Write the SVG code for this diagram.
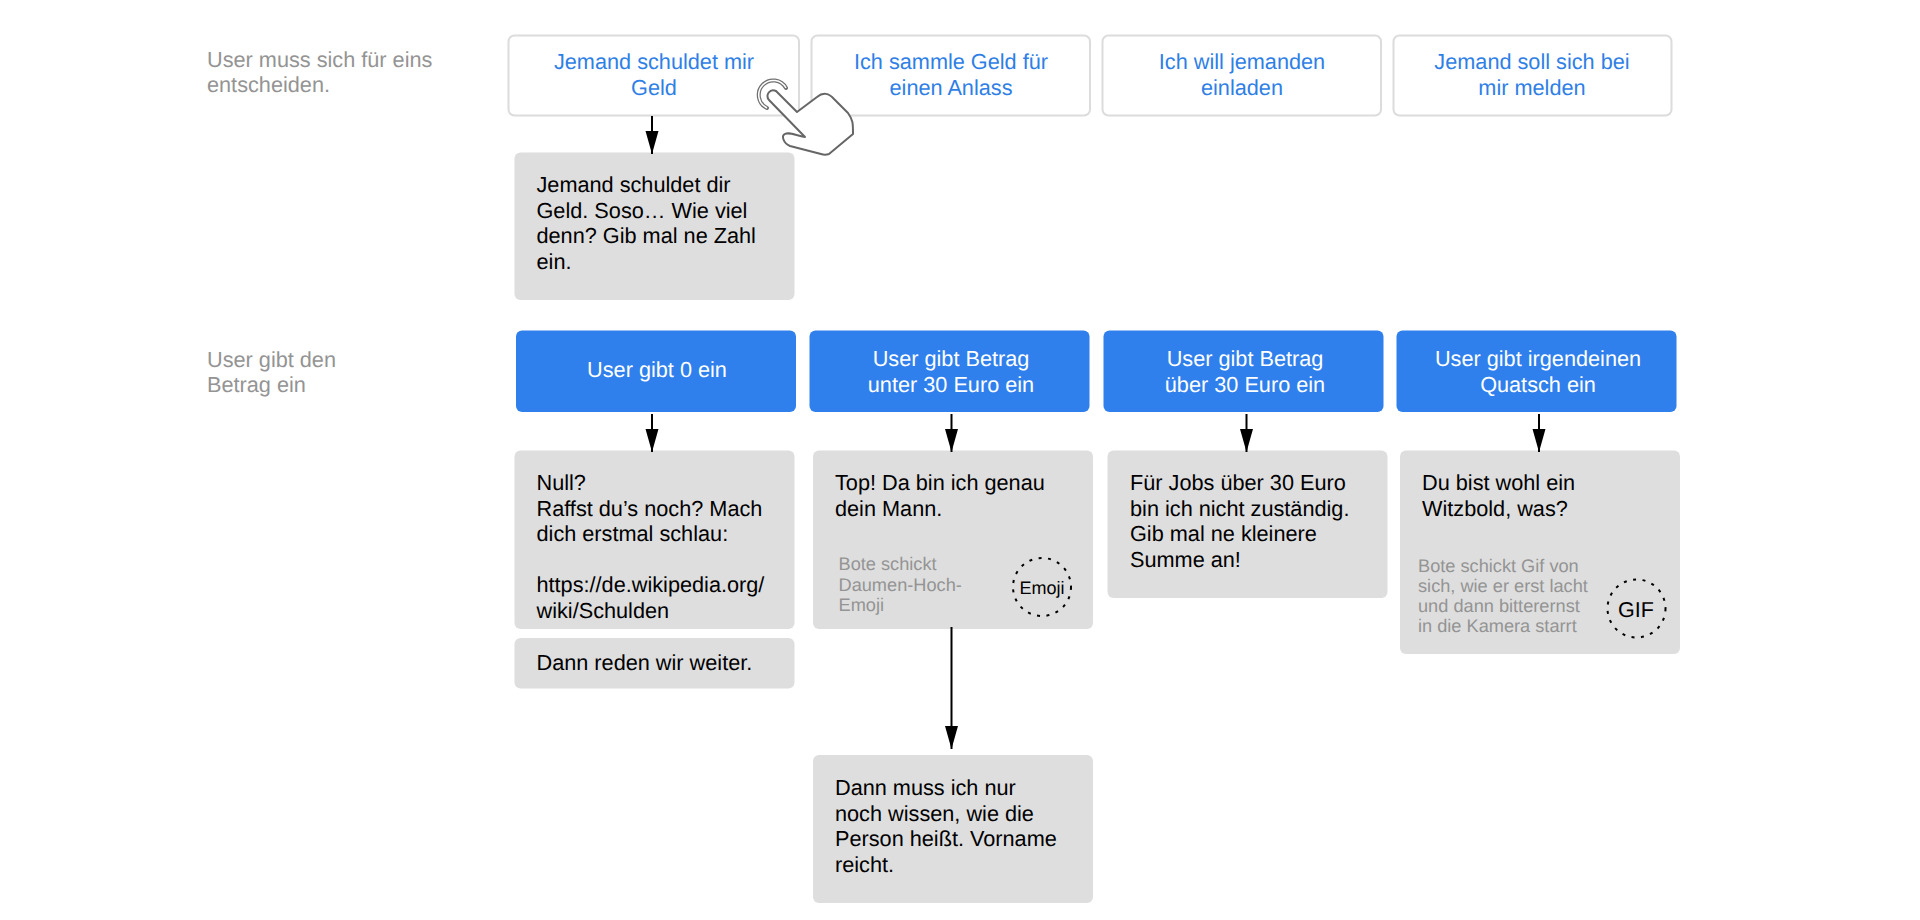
<svg xmlns="http://www.w3.org/2000/svg" width="1920" height="920" viewBox="0 0 1920 920">
<style>
text{font-family:"Liberation Sans",Arial,sans-serif;font-size:21.700px;text-rendering:geometricPrecision}
.ch{fill:#fff;stroke:#dcdcdc;stroke-width:2}
.chT{fill:#2f7fe6;text-anchor:middle}
.bl{fill:#2f80ed}
.blT{fill:#fff;text-anchor:middle}
.gr{fill:#dedede}
.t{fill:#000}
.lb{fill:#949494}
.sm{fill:#949494;font-size:18.200px}
.dot{fill:none;stroke:#000;stroke-width:2;stroke-dasharray:3 6.500}
.c{fill:none;stroke:#000;stroke-width:2;marker-end:url(#b)}
</style>
<defs><marker id="b" markerUnits="userSpaceOnUse" markerWidth="24" markerHeight="14" refX="23" refY="7" orient="auto"><path d="M0 0.500L23 7L0 13.500z" fill="#000"/></marker></defs>
<g id="label-1"><text class="lb" x="207" y="67">User muss sich für eins</text><text class="lb" x="207" y="92">entscheiden.</text></g>
<g id="label-2"><text class="lb" x="207" y="367">User gibt den</text><text class="lb" x="207" y="392">Betrag ein</text></g>
<g id="choice-1"><rect class="ch" x="508.500" y="35.500" width="290.500" height="80" rx="6"/><text class="chT" x="654" y="69">Jemand schuldet mir</text><text class="chT" x="654" y="94.500">Geld</text></g>
<g id="choice-2"><rect class="ch" x="811.500" y="35.500" width="278.500" height="80" rx="6"/><text class="chT" x="951" y="69">Ich sammle Geld für</text><text class="chT" x="951" y="94.500">einen Anlass</text></g>
<g id="choice-3"><rect class="ch" x="1102.500" y="35.500" width="278.500" height="80" rx="6"/><text class="chT" x="1242" y="69">Ich will jemanden</text><text class="chT" x="1242" y="94.500">einladen</text></g>
<g id="choice-4"><rect class="ch" x="1393.500" y="35.500" width="278" height="80" rx="6"/><text class="chT" x="1532" y="69">Jemand soll sich bei</text><text class="chT" x="1532" y="94.500">mir melden</text></g>
<g id="reply-1"><rect class="gr" x="514.500" y="152.500" width="280" height="147.500" rx="6"/><text class="t" x="536.500" y="192">Jemand schuldet dir</text><text class="t" x="536.500" y="217.500">Geld. Soso… Wie viel</text><text class="t" x="536.500" y="243">denn? Gib mal ne Zahl</text><text class="t" x="536.500" y="268.500">ein.</text></g>
<g id="input-1"><rect class="bl" x="516" y="330.500" width="280" height="81.500" rx="6"/><text class="blT" x="657" y="377">User gibt 0 ein</text></g>
<g id="input-2"><rect class="bl" x="809.500" y="330.500" width="280" height="81.500" rx="6"/><text class="blT" x="951" y="366">User gibt Betrag</text><text class="blT" x="951" y="391.500">unter 30 Euro ein</text></g>
<g id="input-3"><rect class="bl" x="1103.500" y="330.500" width="280" height="81.500" rx="6"/><text class="blT" x="1245" y="366">User gibt Betrag</text><text class="blT" x="1245" y="391.500">über 30 Euro ein</text></g>
<g id="input-4"><rect class="bl" x="1396.500" y="330.500" width="280" height="81.500" rx="6"/><text class="blT" x="1538" y="366">User gibt irgendeinen</text><text class="blT" x="1538" y="391.500">Quatsch ein</text></g>
<g id="reply-null"><rect class="gr" x="514.500" y="450.500" width="280" height="178.500" rx="6"/><text class="t" x="536.500" y="490">Null?</text><text class="t" x="536.500" y="515.500">Raffst du’s noch? Mach</text><text class="t" x="536.500" y="541">dich erstmal schlau:</text><text class="t" x="536.500" y="592">https://de.wikipedia.org/</text><text class="t" x="536.500" y="617.500">wiki/Schulden</text></g>
<g id="reply-null-2"><rect class="gr" x="514.500" y="638" width="280" height="50.500" rx="6"/><text class="t" x="536.500" y="670">Dann reden wir weiter.</text></g>
<g id="reply-top"><rect class="gr" x="813" y="450.500" width="280" height="178.500" rx="6"/><text class="t" x="835" y="490">Top! Da bin ich genau</text><text class="t" x="835" y="515.500">dein Mann.</text><text class="sm" x="838.500" y="570">Bote schickt</text><text class="sm" x="838.500" y="590.500">Daumen-Hoch-</text><text class="sm" x="838.500" y="611">Emoji</text><circle class="dot" cx="1042" cy="587" r="29"/><text x="1042" y="594" text-anchor="middle" style="font-size:18px">Emoji</text></g>
<g id="reply-name"><rect class="gr" x="813" y="755" width="280" height="148" rx="6"/><text class="t" x="835" y="795">Dann muss ich nur</text><text class="t" x="835" y="820.500">noch wissen, wie die</text><text class="t" x="835" y="846">Person heißt. Vorname</text><text class="t" x="835" y="871.500">reicht.</text></g>
<g id="reply-over"><rect class="gr" x="1107.500" y="450.500" width="280" height="147.500" rx="6"/><text class="t" x="1130" y="490">Für Jobs über 30 Euro</text><text class="t" x="1130" y="515.500">bin ich nicht zuständig.</text><text class="t" x="1130" y="541">Gib mal ne kleinere</text><text class="t" x="1130" y="566.500">Summe an!</text></g>
<g id="reply-quatsch"><rect class="gr" x="1400" y="450.500" width="280" height="203.500" rx="6"/><text class="t" x="1422" y="490">Du bist wohl ein</text><text class="t" x="1422" y="515.500">Witzbold, was?</text><text class="sm" x="1418" y="572">Bote schickt Gif von</text><text class="sm" x="1418" y="592">sich, wie er erst lacht</text><text class="sm" x="1418" y="612">und dann bitterernst</text><text class="sm" x="1418" y="632">in die Kamera starrt</text><circle class="dot" cx="1636.500" cy="608.500" r="29"/><text x="1636" y="617" text-anchor="middle" style="font-size:21.500px">GIF</text></g>
<g id="connectors">
<path class="c" d="M652 116V154"/>
<path class="c" d="M652 414V452"/>
<path class="c" d="M951.500 414V452"/>
<path class="c" d="M1246.500 414V452"/>
<path class="c" d="M1539 414V452"/>
<path class="c" d="M951.500 627V749"/>
</g>
<g id="hand">
<path d="M767 108A14.500 14.500 0 1 1 786 88" fill="none" stroke="#707070" stroke-width="4" stroke-linecap="round"/>
<path d="M767 108A14.500 14.500 0 1 1 786 88" fill="none" stroke="#fff" stroke-width="1.500"/>
<path d="M769 100C765 95 770 88 776 91L797 112L817 97C823 92 829 93 834 99L848 113C853 120 853 123 853 134L829 154C826 155 824 155 821 154L790 146C783 143 781 135 785 134C788 132 792 134 805 137Z" fill="#fff" stroke="#666" stroke-width="2" stroke-linejoin="round"/>
</g>
</svg>
